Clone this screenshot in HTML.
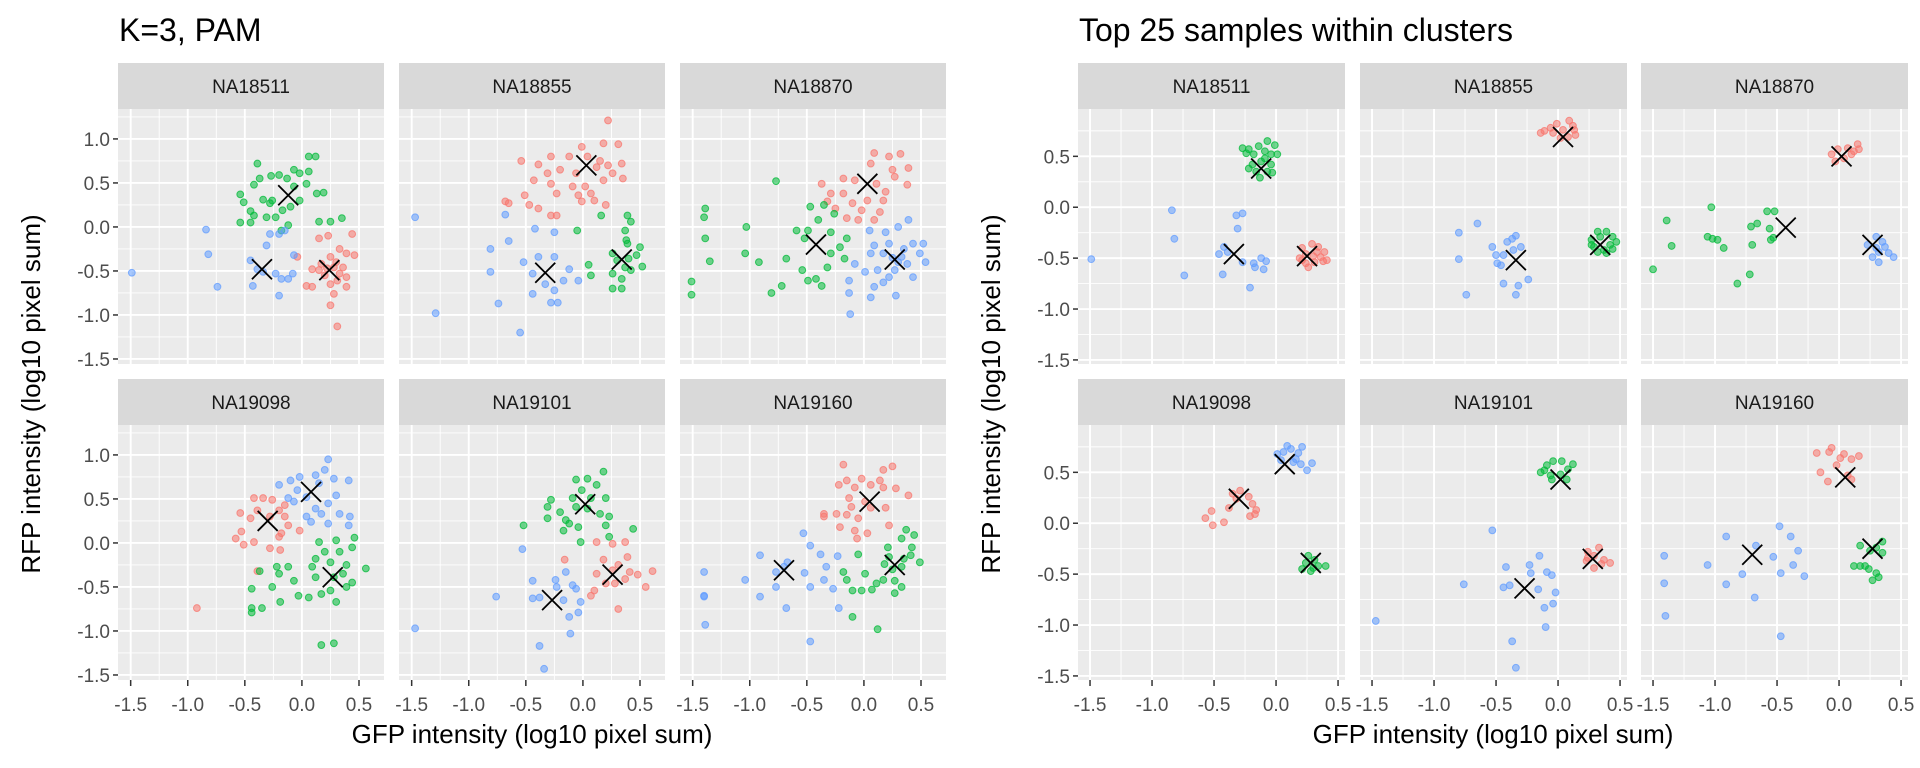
<!DOCTYPE html>
<html><head><meta charset="utf-8"><style>
html,body{margin:0;padding:0;background:#fff;}
svg{display:block;font-family:"Liberation Sans",Arial,sans-serif;}
</style></head><body>
<svg id="chart" width="1920" height="768" viewBox="0 0 1920 768" xmlns="http://www.w3.org/2000/svg">
<text x="119" y="41" font-size="32" fill="#000">K=3, PAM</text>
<text x="1079" y="41" font-size="32" fill="#000">Top 25 samples within clusters</text>
<text x="532" y="743" font-size="26" text-anchor="middle" fill="#000">GFP intensity (log10 pixel sum)</text>
<text x="1493" y="743" font-size="26" text-anchor="middle" fill="#000">GFP intensity (log10 pixel sum)</text>
<text transform="translate(40,394) rotate(-90)" font-size="26" text-anchor="middle" fill="#000">RFP intensity (log10 pixel sum)</text>
<text transform="translate(1000,394) rotate(-90)" font-size="26" text-anchor="middle" fill="#000">RFP intensity (log10 pixel sum)</text>
<g id="plots"></g>
</svg>
<script>
// ---- data ----
const facetNames = ["NA18511","NA18855","NA18870","NA19098","NA19101","NA19160"];
const leftXTicks = [-1.5,-1.0,-0.5,0.0,0.5];
const leftXTickLabels = ["-1.5","-1.0","-0.5","0.0","0.5"];
const leftYTicks = [1.0,0.5,0.0,-0.5,-1.0,-1.5];
const leftYTickLabels = ["1.0","0.5","0.0","-0.5","-1.0","-1.5"];
const rightYTicks = [0.5,0.0,-0.5,-1.0,-1.5];
const rightYTickLabels = ["0.5","0.0","-0.5","-1.0","-1.5"];

const L18511_green=[[-0.39,0.72],[-0.54,0.37],[-0.51,0.28],[-0.45,0.18],[-0.42,0.13],[-0.37,0.55],[-0.27,0.58],[-0.20,0.59],[-0.13,0.55],[-0.07,0.65],[-0.02,0.61],[0.04,0.49],[0.06,0.63],[0.12,0.80],[0.06,0.80],[-0.02,0.30],[-0.10,0.23],[-0.17,0.19],[-0.23,0.11],[-0.28,0.27],[-0.34,0.31],[-0.45,0.05],[-0.54,0.05],[-0.42,0.48],[-0.12,0.02],[-0.18,-0.04],[0.15,0.06],[0.25,0.06],[0.35,0.10],[0.19,0.39],[0.13,0.38],[-0.07,0.46],[-0.26,0.30],[-0.31,0.11]];
const L18511_blue=[[-1.49,-0.52],[-0.84,-0.03],[-0.82,-0.31],[-0.74,-0.68],[-0.43,-0.67],[-0.45,-0.38],[-0.39,-0.48],[-0.31,-0.21],[-0.28,-0.08],[-0.20,-0.08],[-0.15,-0.04],[-0.07,-0.32],[-0.23,-0.53],[-0.18,-0.59],[-0.12,-0.59],[-0.08,-0.53],[-0.20,-0.78],[-0.34,-0.51]];
const L18511_red=[[0.15,-0.13],[0.23,-0.10],[0.44,-0.08],[0.46,-0.32],[0.39,-0.30],[0.33,-0.25],[0.25,-0.34],[0.17,-0.42],[0.09,-0.48],[0.15,-0.49],[0.28,-0.46],[0.36,-0.46],[0.39,-0.57],[0.31,-0.61],[0.25,-0.65],[0.09,-0.68],[0.04,-0.67],[0.28,-0.76],[0.39,-0.68],[0.25,-0.89],[0.31,-1.13],[-0.04,-0.34],[0.20,-0.55],[0.33,-0.53],[0.22,-0.47],[0.30,-0.40]];
const L18511_centers=[[-0.12,0.36],[-0.35,-0.48],[0.24,-0.49]];

const L18855_red=[[0.22,1.21],[-0.54,0.75],[-0.39,0.71],[-0.28,0.80],[-0.12,0.80],[-0.01,0.91],[0.18,0.95],[0.31,0.94],[0.34,0.72],[0.26,0.61],[0.12,0.68],[0.04,0.80],[-0.06,0.61],[-0.20,0.65],[-0.31,0.61],[-0.43,0.53],[-0.28,0.49],[-0.23,0.38],[-0.09,0.46],[0.02,0.46],[0.18,0.53],[0.35,0.55],[-0.51,0.36],[-0.68,0.29],[-0.65,0.27],[-0.47,0.25],[-0.39,0.21],[-0.28,0.13],[-0.23,0.13],[-0.01,0.29],[0.10,0.30],[0.20,0.25],[-0.04,0.36],[0.07,0.38],[0.15,0.75],[0.22,0.70]];
const L18855_blue=[[-1.47,0.11],[-1.29,-0.98],[-0.68,0.14],[-0.81,-0.25],[-0.65,-0.16],[-0.81,-0.51],[-0.74,-0.87],[-0.55,-1.20],[-0.42,-0.02],[-0.25,-0.06],[-0.52,-0.40],[-0.39,-0.34],[-0.25,-0.34],[-0.44,-0.53],[-0.33,-0.65],[-0.28,-0.86],[-0.22,-0.86],[-0.12,-0.48],[-0.04,-0.61],[-0.17,-0.61],[-0.44,-0.76],[-0.25,-0.72]];
const L18855_green=[[0.39,0.13],[0.16,0.13],[-0.05,-0.04],[0.37,-0.04],[0.42,0.06],[0.50,-0.23],[0.39,-0.19],[0.26,-0.30],[0.47,-0.32],[0.37,-0.46],[0.26,-0.53],[0.52,-0.45],[0.42,-0.49],[0.07,-0.55],[0.05,-0.43],[0.26,-0.70],[0.34,-0.70],[0.34,-0.59],[0.38,-0.15],[0.30,-0.38],[0.40,-0.36]];
const L18855_centers=[[0.03,0.70],[-0.33,-0.52],[0.34,-0.37]];

const L18870_red=[[0.09,0.84],[0.32,0.83],[0.22,0.80],[0.39,0.67],[0.25,0.65],[0.06,0.72],[-0.08,0.53],[-0.18,0.55],[-0.37,0.49],[-0.29,0.38],[-0.32,0.29],[-0.18,0.38],[-0.10,0.27],[0.03,0.30],[0.17,0.30],[0.19,0.40],[0.38,0.48],[0.27,0.57],[0.11,0.49],[-0.02,0.19],[0.09,0.08],[0.14,0.17],[-0.05,0.08],[-0.15,0.10],[-0.25,0.21]];
const L18870_green=[[-0.77,0.52],[-1.39,0.21],[-1.40,0.11],[-1.03,0.00],[-1.39,-0.13],[-1.35,-0.39],[-1.51,-0.62],[-1.51,-0.77],[-1.04,-0.30],[-0.92,-0.40],[-0.81,-0.75],[-0.72,-0.67],[-0.68,-0.36],[-0.59,-0.04],[-0.47,0.23],[-0.35,0.25],[-0.26,0.15],[-0.40,0.08],[-0.49,-0.04],[-0.29,-0.06],[-0.15,-0.13],[-0.21,-0.23],[-0.17,-0.36],[-0.32,-0.46],[-0.42,-0.59],[-0.49,-0.61],[-0.54,-0.49],[-0.29,-0.30],[-0.52,-0.13],[-0.37,-0.67]];
const L18870_blue=[[0.39,0.08],[0.30,0.00],[0.05,-0.04],[0.19,-0.06],[0.09,-0.21],[0.22,-0.19],[0.43,-0.19],[0.52,-0.19],[0.06,-0.30],[0.17,-0.30],[0.49,-0.30],[0.54,-0.40],[0.38,-0.42],[0.01,-0.51],[0.12,-0.49],[0.27,-0.49],[0.43,-0.57],[0.22,-0.57],[-0.08,-0.42],[-0.13,-0.61],[-0.13,-0.75],[0.06,-0.80],[0.28,-0.78],[-0.12,-0.99],[0.09,-0.68],[0.17,-0.63],[0.33,-0.34],[0.35,-0.25],[0.30,-0.40],[0.25,-0.35]];
const L18870_centers=[[0.03,0.49],[-0.42,-0.20],[0.27,-0.37]];

const L19098_blue=[[0.23,0.95],[0.20,0.83],[0.41,0.71],[0.12,0.77],[-0.02,0.75],[-0.10,0.71],[-0.20,0.66],[-0.12,0.51],[-0.04,0.60],[0.04,0.52],[0.15,0.68],[0.28,0.73],[0.30,0.54],[0.23,0.45],[0.12,0.39],[0.04,0.30],[0.33,0.33],[0.42,0.30],[0.41,0.20],[0.23,0.22],[-0.07,0.47],[0.08,0.24],[0.17,0.33]];
const L19098_red=[[-0.42,0.51],[-0.34,0.51],[-0.54,0.34],[-0.26,0.49],[-0.15,0.43],[-0.20,0.37],[-0.39,0.37],[-0.45,0.28],[-0.28,0.30],[-0.53,0.13],[-0.58,0.05],[-0.51,-0.02],[-0.42,0.01],[-0.28,-0.06],[-0.19,-0.08],[-0.20,0.07],[-0.18,0.11],[-0.02,0.14],[-0.12,0.20],[-0.39,-0.32],[-0.92,-0.74],[-0.15,0.30]];
const L19098_green=[[0.15,0.01],[0.30,0.03],[0.46,0.06],[0.44,-0.05],[0.33,-0.10],[0.20,-0.10],[0.12,-0.18],[0.25,-0.22],[0.39,-0.25],[0.56,-0.29],[0.09,-0.27],[-0.22,-0.27],[-0.12,-0.27],[-0.20,-0.35],[-0.37,-0.32],[-0.07,-0.43],[0.12,-0.39],[0.28,-0.39],[0.44,-0.45],[0.39,-0.50],[0.25,-0.54],[0.17,-0.58],[0.30,-0.67],[-0.03,-0.60],[0.06,-0.62],[-0.44,-0.52],[-0.26,-0.50],[-0.19,-0.67],[-0.44,-0.74],[-0.44,-0.79],[-0.35,-0.74],[0.17,-1.16],[0.28,-1.14],[0.36,-0.35]];
const L19098_centers=[[-0.30,0.25],[0.27,-0.39],[0.08,0.58]];

const L19101_green=[[0.18,0.81],[-0.06,0.72],[0.04,0.73],[0.12,0.66],[-0.01,0.60],[-0.09,0.51],[0.07,0.51],[0.20,0.51],[-0.28,0.49],[-0.31,0.41],[-0.20,0.35],[-0.06,0.41],[0.04,0.39],[0.15,0.33],[0.23,0.30],[-0.31,0.28],[-0.12,0.22],[-0.04,0.18],[-0.17,0.14],[0.20,0.20],[0.44,0.16],[-0.52,0.20],[0.23,0.07],[-0.02,0.01],[-0.15,0.26]];
const L19101_red=[[0.12,0.01],[0.26,-0.01],[0.37,0.01],[0.39,-0.16],[0.18,-0.19],[0.31,-0.25],[0.26,-0.31],[0.12,-0.35],[0.37,-0.41],[0.48,-0.36],[0.61,-0.32],[0.41,-0.33],[0.20,-0.46],[0.10,-0.54],[0.55,-0.50],[0.31,-0.75],[0.07,-0.60],[-0.16,-0.19],[0.28,-0.46]];
const L19101_blue=[[-1.47,-0.97],[-0.76,-0.61],[-0.53,-0.07],[-0.44,-0.43],[-0.44,-0.63],[-0.38,-0.62],[-0.24,-0.42],[-0.15,-0.33],[-0.23,-0.50],[-0.09,-0.48],[-0.06,-0.52],[-0.17,-0.65],[-0.02,-0.67],[-0.04,-0.79],[-0.12,-0.84],[-0.11,-1.03],[-0.38,-1.17],[-0.34,-1.43]];
const L19101_centers=[[0.26,-0.36],[0.02,0.44],[-0.27,-0.65]];

const L19160_red=[[-0.18,0.89],[0.25,0.87],[0.17,0.83],[-0.15,0.71],[-0.02,0.73],[-0.22,0.66],[-0.08,0.63],[0.06,0.66],[0.14,0.71],[0.17,0.63],[0.28,0.62],[0.39,0.54],[-0.13,0.51],[0.01,0.47],[-0.11,0.41],[-0.15,0.32],[-0.24,0.33],[-0.35,0.33],[0.06,0.40],[0.19,0.40],[-0.05,0.28],[-0.21,0.18],[-0.08,0.14],[0.03,0.11],[0.22,0.20],[-0.06,0.05],[-0.35,0.30]];
const L19160_green=[[0.37,0.15],[0.44,0.09],[0.21,-0.05],[0.33,0.05],[0.42,-0.05],[0.41,-0.14],[0.49,-0.22],[0.35,-0.18],[0.18,-0.24],[-0.05,-0.13],[0.25,-0.30],[0.33,-0.27],[-0.18,-0.33],[0.01,-0.35],[-0.15,-0.42],[0.17,-0.42],[0.27,-0.43],[0.11,-0.46],[0.33,-0.50],[0.27,-0.57],[-0.10,-0.54],[-0.02,-0.54],[0.07,-0.53],[-0.10,-0.84],[0.12,-0.98],[0.22,-0.16]];
const L19160_blue=[[-0.53,0.11],[-0.47,-0.03],[-0.91,-0.14],[-0.67,-0.22],[-0.70,-0.27],[-0.38,-0.13],[-0.23,-0.15],[-0.33,-0.27],[-1.40,-0.33],[-1.04,-0.42],[-0.77,-0.33],[-0.52,-0.34],[-0.35,-0.42],[-0.27,-0.52],[-0.47,-0.50],[-0.77,-0.50],[-1.40,-0.60],[-1.40,-0.61],[-0.91,-0.61],[-0.68,-0.74],[-0.22,-0.74],[-1.39,-0.93],[-0.47,-1.12]];
const L19160_centers=[[0.05,0.47],[0.27,-0.25],[-0.70,-0.31]];

const R18511_green=[[-0.22,0.57],[-0.27,0.58],[-0.14,0.60],[-0.07,0.65],[-0.01,0.61],[-0.09,0.55],[-0.18,0.52],[-0.04,0.52],[0.01,0.52],[-0.24,0.53],[-0.12,0.45],[-0.19,0.42],[-0.04,0.42],[-0.16,0.35],[-0.07,0.35],[-0.03,0.34],[-0.13,0.29],[-0.22,0.38],[-0.09,0.48]];
const R18511_blue=[[-1.49,-0.51],[-0.84,-0.03],[-0.82,-0.31],[-0.74,-0.67],[-0.43,-0.66],[-0.46,-0.46],[-0.42,-0.39],[-0.32,-0.08],[-0.27,-0.06],[-0.31,-0.21],[-0.27,-0.54],[-0.18,-0.55],[-0.17,-0.59],[-0.12,-0.50],[-0.08,-0.53],[-0.10,-0.61],[-0.21,-0.79],[-0.39,-0.44]];
const R18511_red=[[0.21,-0.40],[0.29,-0.36],[0.34,-0.39],[0.39,-0.44],[0.36,-0.49],[0.41,-0.52],[0.31,-0.54],[0.24,-0.55],[0.19,-0.50],[0.26,-0.59],[0.30,-0.48],[0.24,-0.46],[0.33,-0.44],[0.21,-0.52],[0.38,-0.53]];
const R18511_centers=[[-0.12,0.38],[-0.34,-0.46],[0.25,-0.48]];

const R18855_red=[[-0.11,0.75],[-0.06,0.78],[-0.01,0.82],[0.09,0.85],[0.12,0.80],[0.04,0.76],[-0.04,0.73],[0.14,0.71],[0.08,0.69],[0.02,0.68],[-0.14,0.73],[0.13,0.76]];
const R18855_green=[[0.32,-0.24],[0.39,-0.24],[0.44,-0.29],[0.34,-0.29],[0.27,-0.32],[0.47,-0.34],[0.42,-0.37],[0.29,-0.39],[0.37,-0.42],[0.44,-0.41],[0.32,-0.44],[0.39,-0.45],[0.27,-0.37]];
const R18855_blue=[[-0.80,-0.25],[-0.65,-0.16],[-0.80,-0.51],[-0.74,-0.86],[-0.53,-0.39],[-0.41,-0.34],[-0.37,-0.31],[-0.34,-0.28],[-0.50,-0.47],[-0.49,-0.55],[-0.44,-0.47],[-0.30,-0.39],[-0.36,-0.42],[-0.44,-0.75],[-0.32,-0.77],[-0.34,-0.86],[-0.24,-0.71],[-0.46,-0.57]];
const R18855_centers=[[0.04,0.69],[0.34,-0.37],[-0.34,-0.52]];

const R18870_red=[[-0.06,0.52],[-0.01,0.57],[0.07,0.58],[0.15,0.62],[0.12,0.55],[0.04,0.48],[-0.03,0.45],[0.10,0.52],[0.16,0.57]];
const R18870_blue=[[0.30,-0.29],[0.35,-0.34],[0.37,-0.39],[0.30,-0.40],[0.40,-0.45],[0.44,-0.49],[0.27,-0.49],[0.32,-0.54],[0.23,-0.37],[0.32,-0.44]];
const R18870_green=[[-1.50,-0.61],[-1.39,-0.13],[-1.35,-0.38],[-1.03,0.00],[-1.06,-0.29],[-1.02,-0.31],[-0.98,-0.32],[-0.93,-0.40],[-0.82,-0.75],[-0.72,-0.66],[-0.70,-0.37],[-0.71,-0.19],[-0.66,-0.16],[-0.58,-0.04],[-0.52,-0.04],[-0.56,-0.21],[-0.55,-0.32],[-0.53,-0.30]];
const R18870_centers=[[0.02,0.50],[0.27,-0.37],[-0.43,-0.20]];

const R19098_blue=[[0.01,0.68],[0.09,0.76],[0.12,0.73],[0.21,0.75],[0.18,0.69],[0.06,0.70],[0.16,0.63],[0.20,0.58],[0.29,0.59],[0.25,0.52],[0.04,0.62],[0.14,0.60]];
const R19098_red=[[-0.35,0.29],[-0.29,0.32],[-0.22,0.26],[-0.19,0.19],[-0.16,0.13],[-0.21,0.07],[-0.17,0.09],[-0.38,0.15],[-0.52,0.12],[-0.57,0.05],[-0.51,-0.02],[-0.42,0.01],[-0.32,0.24]];
const R19098_green=[[0.26,-0.32],[0.31,-0.36],[0.24,-0.39],[0.34,-0.42],[0.28,-0.47],[0.40,-0.42],[0.21,-0.45],[0.30,-0.44]];
const R19098_centers=[[0.07,0.58],[-0.30,0.24],[0.28,-0.39]];

const R19101_green=[[-0.14,0.50],[-0.09,0.57],[-0.04,0.61],[0.03,0.61],[0.12,0.58],[0.08,0.53],[-0.06,0.47],[0.07,0.43],[-0.05,0.43],[0.02,0.48],[-0.11,0.52]];
const R19101_red=[[0.33,-0.24],[0.24,-0.28],[0.29,-0.32],[0.37,-0.36],[0.42,-0.39],[0.23,-0.37],[0.29,-0.44],[0.35,-0.40],[0.24,-0.34]];
const R19101_blue=[[-1.47,-0.96],[-0.76,-0.60],[-0.53,-0.07],[-0.42,-0.43],[-0.44,-0.63],[-0.39,-0.61],[-0.23,-0.41],[-0.22,-0.49],[-0.15,-0.32],[-0.09,-0.48],[-0.05,-0.51],[-0.16,-0.65],[-0.02,-0.68],[-0.04,-0.79],[-0.11,-0.83],[-0.10,-1.02],[-0.37,-1.16],[-0.34,-1.42]];
const R19101_centers=[[0.02,0.43],[0.28,-0.35],[-0.27,-0.64]];

const R19160_red=[[-0.18,0.69],[-0.08,0.70],[-0.06,0.74],[0.04,0.68],[0.01,0.64],[0.10,0.63],[0.16,0.66],[-0.15,0.50],[-0.09,0.41],[-0.02,0.57],[0.07,0.47],[0.10,0.43]];
const R19160_green=[[0.35,-0.18],[0.30,-0.24],[0.35,-0.29],[0.25,-0.27],[0.17,-0.22],[0.12,-0.42],[0.17,-0.42],[0.24,-0.45],[0.30,-0.49],[0.32,-0.53],[0.27,-0.56],[0.21,-0.42]];
const R19160_blue=[[-1.41,-0.32],[-1.41,-0.59],[-1.40,-0.91],[-1.06,-0.41],[-0.91,-0.13],[-0.91,-0.60],[-0.78,-0.50],[-0.68,-0.73],[-0.53,-0.33],[-0.48,-0.03],[-0.47,-0.49],[-0.47,-1.11],[-0.39,-0.13],[-0.37,-0.41],[-0.33,-0.27],[-0.28,-0.52],[-0.67,-0.22]];
const R19160_centers=[[0.05,0.45],[0.27,-0.25],[-0.70,-0.31]];

const leftFacets=[
 {red:L18511_red,green:L18511_green,blue:L18511_blue,centers:L18511_centers},
 {red:L18855_red,green:L18855_green,blue:L18855_blue,centers:L18855_centers},
 {red:L18870_red,green:L18870_green,blue:L18870_blue,centers:L18870_centers},
 {red:L19098_red,green:L19098_green,blue:L19098_blue,centers:L19098_centers},
 {red:L19101_red,green:L19101_green,blue:L19101_blue,centers:L19101_centers},
 {red:L19160_red,green:L19160_green,blue:L19160_blue,centers:L19160_centers}];
const rightFacets=[
 {red:R18511_red,green:R18511_green,blue:R18511_blue,centers:R18511_centers},
 {red:R18855_red,green:R18855_green,blue:R18855_blue,centers:R18855_centers},
 {red:R18870_red,green:R18870_green,blue:R18870_blue,centers:R18870_centers},
 {red:R19098_red,green:R19098_green,blue:R19098_blue,centers:R19098_centers},
 {red:R19101_red,green:R19101_green,blue:R19101_blue,centers:R19101_centers},
 {red:R19160_red,green:R19160_green,blue:R19160_blue,centers:R19160_centers}];

// ---- drawing ----
const NS="http://www.w3.org/2000/svg";
const root=document.getElementById("plots");
const COLORS={red:"#F8766D",green:"#00BA38",blue:"#619CFF"};
function mk(tag,attrs,parent){const e=document.createElementNS(NS,tag);for(const k in attrs)e.setAttribute(k,attrs[k]);(parent||root).appendChild(e);return e;}

function drawGroup(side,facets,colX,W,xDom,yDom,yTicks,yLabels){
  const rowStrip=[63,379], rowPlot=[109,425];
  const H=255;
  facets.forEach((f,i)=>{
    const c=i%3,r=Math.floor(i/3);
    const px=colX[c],py=rowPlot[r];
    const sx=v=>px+(v-xDom[0])/(xDom[1]-xDom[0])*W;
    const sy=v=>py+(yDom[1]-v)/(yDom[1]-yDom[0])*H;
    const g=mk("g",{});
    
    
    const strip=mk("rect",{x:px,y:rowStrip[r],width:W,height:46,fill:"#D9D9D9"},g);
    
    
    const st=mk("text",{x:px+W/2,y:rowStrip[r]+30,"font-size":19,"text-anchor":"middle",fill:"#1A1A1A"},g);
    st.textContent=facetNames[i];
    
    
    const bg=mk("rect",{x:px,y:py,width:W,height:H,fill:"#EBEBEB"},g);
    
    
    for(let k=0;k<leftXTicks.length-1;k++){const v=(leftXTicks[k]+leftXTicks[k+1])/2;mk("line",{x1:sx(v),x2:sx(v),y1:py,y2:py+H,stroke:"#fff","stroke-width":0.9},g);}
    for(let k=0;k<yTicks.length;k++){const v=yTicks[k]+0.25;if(v<yDom[1])mk("line",{x1:px,x2:px+W,y1:sy(v),y2:sy(v),stroke:"#fff","stroke-width":0.9},g);}
    leftXTicks.forEach(v=>mk("line",{x1:sx(v),x2:sx(v),y1:py,y2:py+H,stroke:"#fff","stroke-width":1.9},g));
    yTicks.forEach(v=>mk("line",{x1:px,x2:px+W,y1:sy(v),y2:sy(v),stroke:"#fff","stroke-width":1.9},g));
    ["red","green","blue"].forEach(k=>{
      f[k].forEach(p=>{
        const dot=mk("circle",{cx:sx(p[0]),cy:sy(p[1]),r:3.4,fill:COLORS[k],"fill-opacity":0.55,stroke:COLORS[k],"stroke-opacity":0.75,"stroke-width":1},g);
        
        
      });
    });
    f.centers.forEach(p=>{
      const x=sx(p[0]),y=sy(p[1]),s=10;
      const m=mk("path",{d:`M${x-s},${y-s}L${x+s},${y+s}M${x-s},${y+s}L${x+s},${y-s}`,stroke:"#000","stroke-width":1.8,fill:"none"},g);
      
      
    });
    if(c===0){
      yTicks.forEach((v,k)=>{
        mk("line",{x1:px-5,x2:px,y1:sy(v),y2:sy(v),stroke:"#333","stroke-width":1.5},g);
        const t=mk("text",{x:px-8,y:sy(v)+7,"font-size":19,"text-anchor":"end",fill:"#4D4D4D"},g);
        t.textContent=yLabels[k];
        
        
      });
    }
    if(r===1){
      leftXTicks.forEach((v,k)=>{
        mk("line",{x1:sx(v),x2:sx(v),y1:py+H,y2:py+H+6,stroke:"#333","stroke-width":1.5},g);
        const t=mk("text",{x:sx(v),y:711,"font-size":19,"text-anchor":"middle",fill:"#4D4D4D"},g);
        t.textContent=leftXTickLabels[k];
        
        
      });
    }
  });
}
drawGroup("left",leftFacets,[118,399,680],266,[-1.611,0.719],[-1.557,1.34],leftYTicks,leftYTickLabels);
drawGroup("right",rightFacets,[1078,1360,1641],267,[-1.597,0.556],[-1.54,0.965],rightYTicks,rightYTickLabels);
</script>
</body></html>
